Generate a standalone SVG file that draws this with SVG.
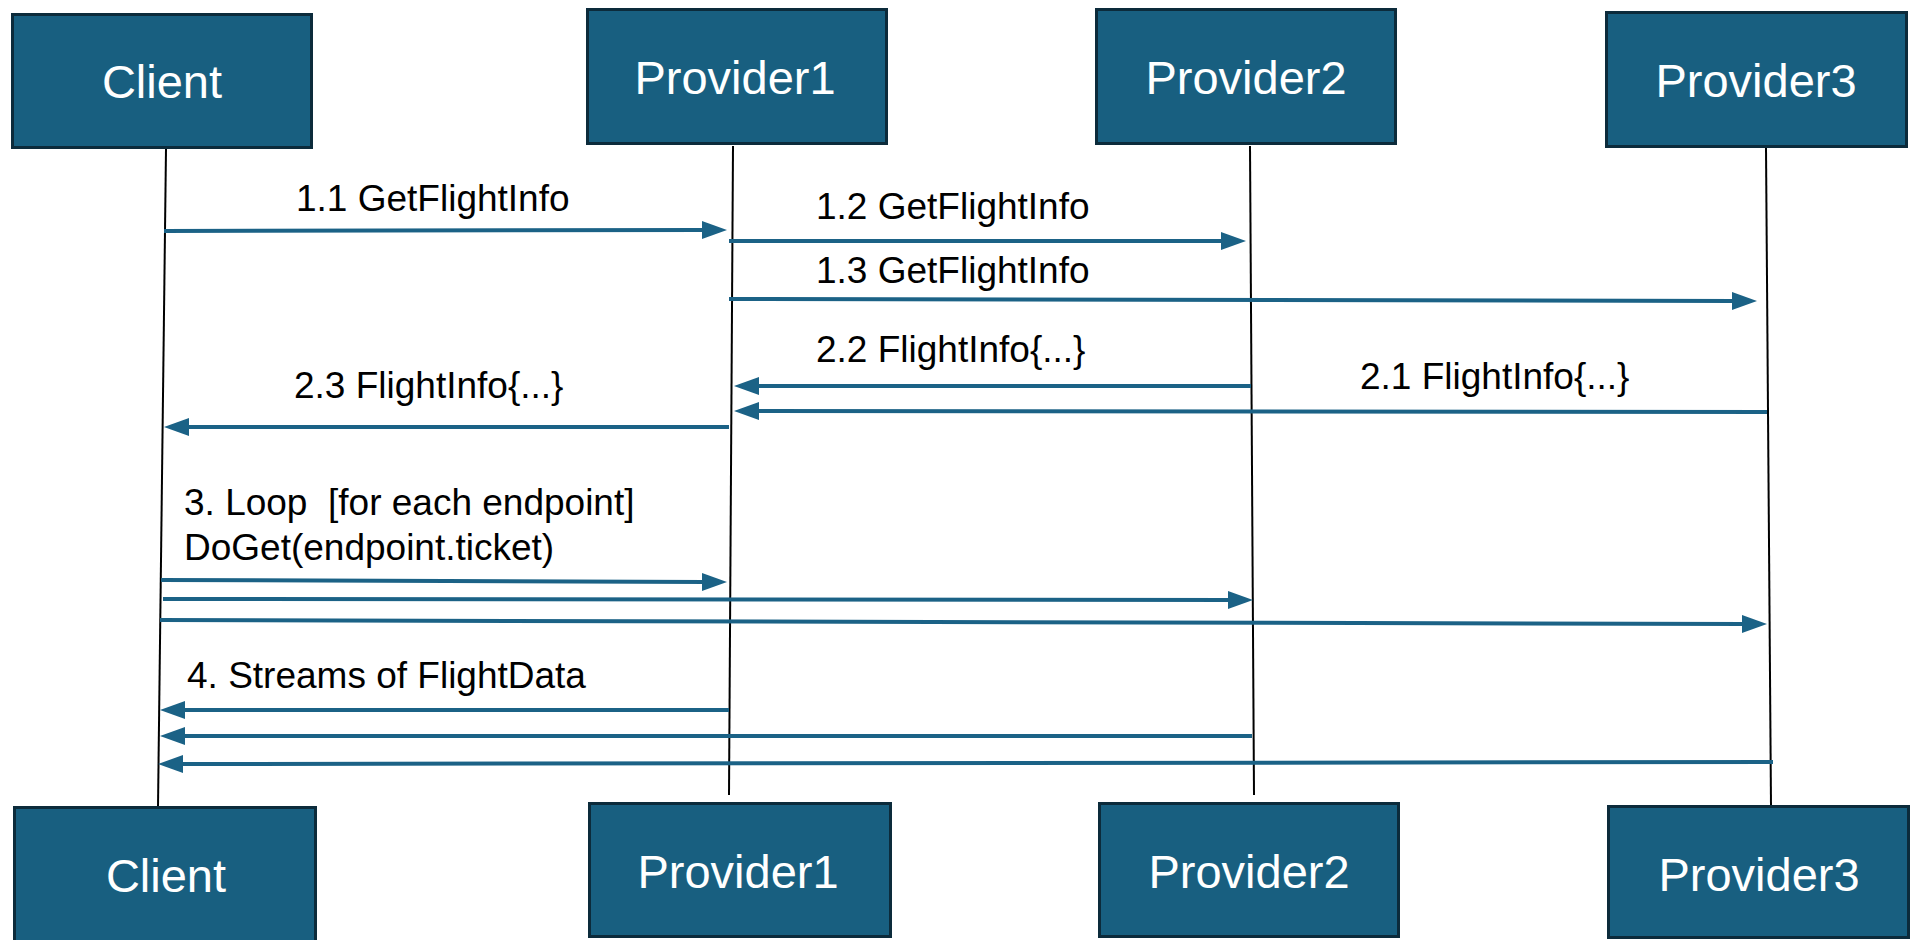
<svg xmlns="http://www.w3.org/2000/svg" width="1913" height="940" viewBox="0 0 1913 940">
<style>
.box{fill:#185f80;stroke:#0c2b3b;stroke-width:3}
.bt{font-family:"Liberation Sans",Arial,sans-serif;font-size:47px;fill:#ffffff;text-anchor:middle}
.life{stroke:#000000;stroke-width:2;fill:none}
.msg{stroke:#1b6286;stroke-width:4;fill:none;marker-end:url(#ah)}
.lbl{font-family:"Liberation Sans",Arial,sans-serif;font-size:37px;fill:#000000;white-space:pre}
</style>
<defs>
<marker id="ah" markerUnits="userSpaceOnUse" markerWidth="25" markerHeight="18" refX="3" refY="9" orient="auto" viewBox="0 0 25 18">
<path d="M0,0 L25,9 L0,18 z" fill="#1b6286"/>
</marker>
</defs>
<rect width="1913" height="940" fill="#ffffff"/>
<g id="lifelines">
<line class="life" x1="166" y1="149" x2="158" y2="807"/>
<line class="life" x1="733" y1="146" x2="729" y2="795"/>
<line class="life" x1="1250" y1="146" x2="1254" y2="795"/>
<line class="life" x1="1766" y1="148" x2="1771" y2="806"/>
</g>
<g id="client-top"><rect class="box" x="12.5" y="14.5" width="299" height="133"/><text class="bt" x="162" y="98">Client</text></g>
<g id="provider1-top"><rect class="box" x="587.5" y="9.5" width="299" height="134"/><text class="bt" x="735" y="94">Provider1</text></g>
<g id="provider2-top"><rect class="box" x="1096.5" y="9.5" width="299" height="134"/><text class="bt" x="1246" y="94">Provider2</text></g>
<g id="provider3-top"><rect class="box" x="1606.5" y="12.5" width="300" height="134"/><text class="bt" x="1756" y="97">Provider3</text></g>
<g id="client-bottom"><rect class="box" x="14.5" y="807.5" width="301" height="140"/><text class="bt" x="166" y="892">Client</text></g>
<g id="provider1-bottom"><rect class="box" x="589.5" y="803.5" width="301" height="133"/><text class="bt" x="738" y="888">Provider1</text></g>
<g id="provider2-bottom"><rect class="box" x="1099.5" y="803.5" width="299" height="133"/><text class="bt" x="1249" y="888">Provider2</text></g>
<g id="provider3-bottom"><rect class="box" x="1608.5" y="806.5" width="300" height="131"/><text class="bt" x="1759" y="891">Provider3</text></g>
<g id="connectors">
<line class="msg" x1="164" y1="231" x2="705" y2="230"/>
<line class="msg" x1="729" y1="241" x2="1224" y2="241"/>
<line class="msg" x1="729" y1="299" x2="1735" y2="301"/>
<line class="msg" x1="1251" y1="386" x2="756" y2="386"/>
<line class="msg" x1="1767" y1="412" x2="756" y2="411"/>
<line class="msg" x1="729" y1="427" x2="186" y2="427"/>
<line class="msg" x1="161" y1="580" x2="705" y2="582"/>
<line class="msg" x1="163" y1="599" x2="1231" y2="600"/>
<line class="msg" x1="160" y1="620" x2="1745" y2="624"/>
<line class="msg" x1="729" y1="710" x2="182" y2="710"/>
<line class="msg" x1="1252" y1="736" x2="182" y2="736"/>
<line class="msg" x1="1773" y1="762" x2="180" y2="764"/>
</g>
<g id="labels">
<text class="lbl" x="296" y="211">1.1 GetFlightInfo</text>
<text class="lbl" x="816" y="219">1.2 GetFlightInfo</text>
<text class="lbl" x="816" y="283">1.3 GetFlightInfo</text>
<text class="lbl" x="816" y="362">2.2 FlightInfo{...}</text>
<text class="lbl" x="1360" y="389">2.1 FlightInfo{...}</text>
<text class="lbl" x="294" y="398">2.3 FlightInfo{...}</text>
<text class="lbl" x="184" y="515" xml:space="preserve">3. Loop  [for each endpoint]</text>
<text class="lbl" x="184" y="560">DoGet(endpoint.ticket)</text>
<text class="lbl" x="187" y="688">4. Streams of FlightData</text>
</g>
</svg>
